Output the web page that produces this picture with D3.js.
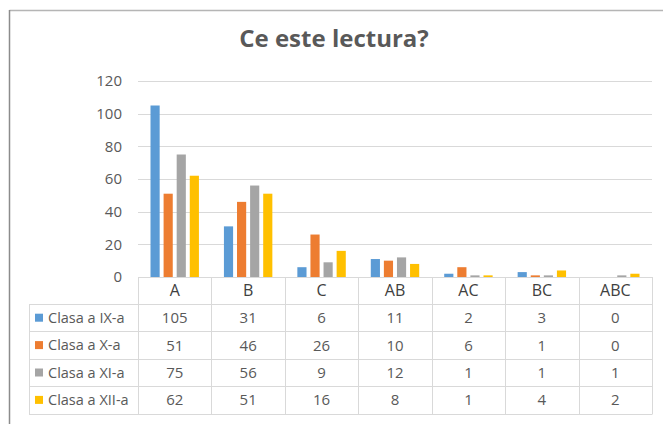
<!DOCTYPE html>
<html>
<head>
<meta charset="utf-8">
<script src="https://cdn.jsdelivr.net/npm/d3@7"></script>
<style>
  body { margin: 0; background: #fff; }
  svg { display: block; font-family: "Open Sans", sans-serif; }
</style>
</head>
<body>
<svg id="chart"></svg>
<script>
const categories = ["A", "B", "C", "AB", "AC", "BC", "ABC"];
const seriesNames = ["Clasa a IX-a", "Clasa a X-a", "Clasa a XI-a", "Clasa a XII-a"];
const clasaIX = [105, 31, 6, 11, 2, 3, 0];
const clasaX = [51, 46, 26, 10, 6, 1, 0];
const clasaXI = [75, 56, 9, 12, 1, 1, 1];
const clasaXII = [62, 51, 16, 8, 1, 4, 2];
const yTicks = [0, 20, 40, 60, 80, 100, 120];
const colors = ["#5B9BD5", "#ED7D31", "#A5A5A5", "#FFC000"];

const allSeries = [clasaIX, clasaX, clasaXI, clasaXII];

const width = 663, height = 424;
const svg = d3.select("#chart").attr("width", width).attr("height", height);

// rama exterioara
svg.append("line").attr("x1", 9.5).attr("x2", 663).attr("y1", 10.5).attr("y2", 10.5)
    .attr("stroke", "#b5b5b5").attr("stroke-width", 1.5);
svg.append("line").attr("x1", 9.5).attr("x2", 9.5).attr("y1", 10).attr("y2", 424)
    .attr("stroke", "#8c8c8c").attr("stroke-width", 1.5);

// titlu
svg.append("text")
    .attr("x", 334).attr("y", 47)
    .attr("text-anchor", "middle")
    .attr("font-size", 24).attr("font-weight", "bold")
    .attr("fill", "#595959")
    .text("Ce este lectura?");

const plotLeft = 138, plotRight = 652;
const y = d3.scaleLinear().domain([0, 120]).range([277, 81]);

const x0 = d3.scaleBand().domain(categories).range([plotLeft, plotRight]);
const x1 = d3.scaleBand().domain(seriesNames)
    .range([12.5, x0.bandwidth() - 12.5]).paddingInner(0.3);

// linii de grila
svg.append("g").selectAll("line")
    .data(yTicks.filter(d => d > 0))
    .join("line")
    .attr("x1", plotLeft).attr("x2", plotRight)
    .attr("y1", d => Math.round(y(d)) + 0.5).attr("y2", d => Math.round(y(d)) + 0.5)
    .attr("stroke", "#d9d9d9");

// etichete axa y
const yAxis = d3.axisLeft(y).tickValues(yTicks).tickSize(0).tickPadding(0);
const gy = svg.append("g").attr("transform", "translate(122,0)").call(yAxis);
gy.select(".domain").remove();
gy.selectAll("text").attr("font-size", 15).attr("fill", "#595959")
    .attr("font-family", "Open Sans, sans-serif");

// bare
const groups = svg.append("g").selectAll("g")
    .data(categories)
    .join("g")
    .attr("transform", d => `translate(${x0(d)},0)`);

groups.selectAll("rect")
    .data((c, ci) => seriesNames.map((s, si) => ({ s, si, v: allSeries[si][ci] })))
    .join("rect")
    .attr("x", d => x1(d.s))
    .attr("width", x1.bandwidth())
    .attr("y", d => y(d.v))
    .attr("height", d => y(0) - y(d.v))
    .attr("fill", d => colors[d.si]);

// tabel de date
const tableTop = 277, headerH = 27, rowH = 27.4;
const legendLeft = 29;
const rowY = i => tableTop + headerH + i * rowH;
const tableBottom = rowY(seriesNames.length);
const grid = svg.append("g").attr("stroke", "#d9d9d9").attr("stroke-width", 1);

// linia de jos a zonei de grafic (axa)
grid.append("line").attr("x1", plotLeft).attr("x2", plotRight)
    .attr("y1", tableTop + 0.5).attr("y2", tableTop + 0.5);

// orizontale
grid.selectAll(".h")
    .data(d3.range(seriesNames.length + 1))
    .join("line")
    .attr("x1", legendLeft).attr("x2", plotRight)
    .attr("y1", i => Math.round(rowY(i)) + 0.5).attr("y2", i => Math.round(rowY(i)) + 0.5);

// verticale
const vx = categories.map(c => x0(c)).concat([plotRight]);
grid.selectAll(".v")
    .data(vx)
    .join("line")
    .attr("x1", d => Math.round(d) + 0.5).attr("x2", d => Math.round(d) + 0.5)
    .attr("y1", tableTop).attr("y2", Math.round(tableBottom) + 0.5);
grid.append("line").attr("x1", legendLeft + 0.5).attr("x2", legendLeft + 0.5)
    .attr("y1", rowY(0)).attr("y2", Math.round(tableBottom) + 0.5);

// antet categorii
svg.append("g").selectAll("text")
    .data(categories)
    .join("text")
    .attr("x", d => x0(d) + x0.bandwidth() / 2)
    .attr("y", tableTop + headerH / 2 + 5)
    .attr("text-anchor", "middle")
    .attr("font-size", 16).attr("fill", "#404040")
    .text(d => d);

// randuri
const rows = svg.append("g").selectAll("g")
    .data(seriesNames)
    .join("g")
    .attr("transform", (d, i) => `translate(0,${rowY(i) + rowH / 2})`);

rows.append("rect")
    .attr("x", 35).attr("y", -4).attr("width", 8).attr("height", 8)
    .attr("fill", (d, i) => colors[i]);

rows.append("text")
    .attr("x", 48).attr("y", 5)
    .attr("font-size", 14.5).attr("fill", "#595959")
    .text(d => d);

rows.each(function(s, si) {
    d3.select(this).selectAll(".val")
        .data(allSeries[si])
        .join("text")
        .attr("x", (v, ci) => x0(categories[ci]) + x0.bandwidth() / 2)
        .attr("y", 5.5)
        .attr("text-anchor", "middle")
        .attr("font-size", 15).attr("fill", "#595959")
        .text(v => v);
});
</script>
</body>
</html>
